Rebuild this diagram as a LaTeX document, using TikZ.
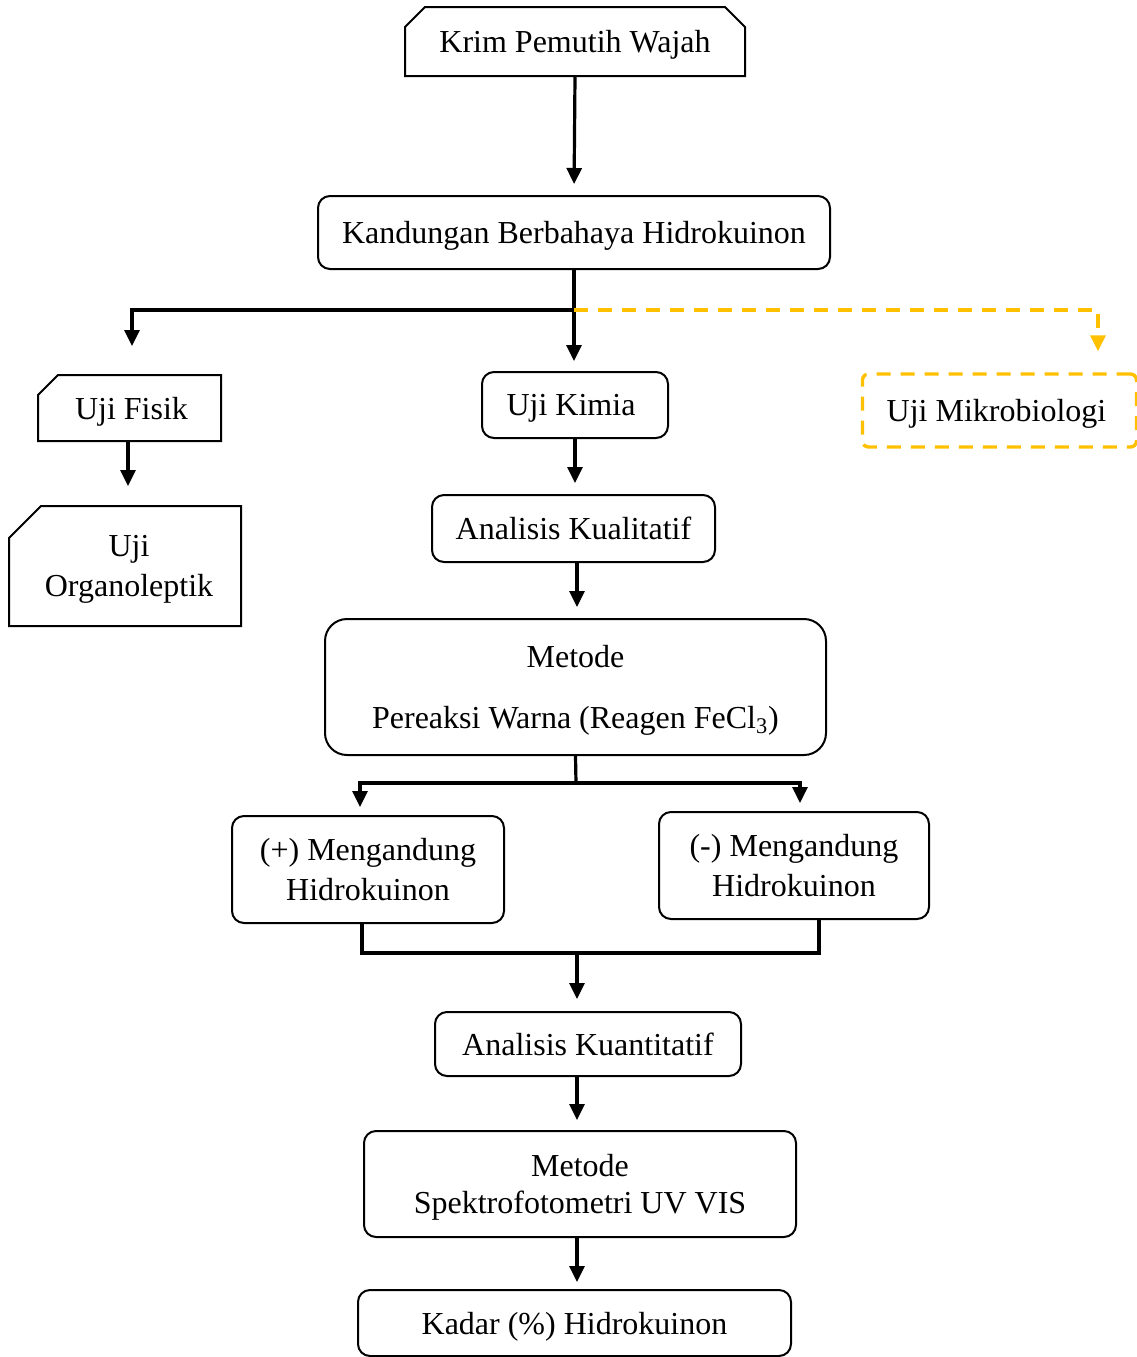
\documentclass[tikz,border=0pt]{standalone}
\usepackage{fontspec}
\setmainfont{Liberation Serif}
\usetikzlibrary{arrows.meta,shapes.misc}
\definecolor{ygold}{HTML}{FFC000}
\begin{document}
\begin{tikzpicture}[x=0.5pt,y=-0.5pt,
  font=\fontsize{16pt}{20pt}\selectfont,
  rbox/.style={draw,line width=1pt,rounded corners=6pt,inner sep=0pt,align=center,text depth=0pt},
  cbox/.style={draw,line width=1pt,chamfered rectangle,inner sep=0pt,align=center,text depth=0pt},
  conn/.style={line width=1.6pt},
  arr/.style={line width=1.6pt,-{Triangle[width=7.5pt,length=8pt]}},
  yarr/.style={line width=1.7pt,draw=ygold,dash pattern=on 7pt off 5pt,-{Triangle[width=7.5pt,length=8pt]},ygold},
  ybox/.style={draw=ygold,line width=1.7pt,dash pattern=on 7pt off 5pt,rounded corners=3pt,inner sep=0pt,align=center,text depth=0pt}
]
\useasboundingbox (0,0) rectangle (1137,1357);

\node[cbox,chamfered rectangle corners={north west,north east},chamfered rectangle xsep=5pt,chamfered rectangle ysep=5pt,minimum width=170pt,minimum height=34.5pt] (krim) at (575,41.5) {Krim Pemutih Wajah};
\node[rbox,minimum width=256pt,minimum height=36.5pt] (kand) at (574,232.5) {Kandungan Berbahaya Hidrokuinon};
\node[cbox,chamfered rectangle corners={north west},chamfered rectangle xsep=5pt,chamfered rectangle ysep=5pt,minimum width=91.5pt,minimum height=33pt] (fisik) at (129.5,408) {\hspace*{2pt}Uji Fisik};
\node[cbox,chamfered rectangle corners={north west},chamfered rectangle xsep=8pt,chamfered rectangle ysep=8pt,minimum width=116pt,minimum height=60pt] (organo) at (125,566) {\hspace*{4pt}Uji\\\hspace*{4pt}Organoleptik};
\node[rbox,minimum width=93pt,minimum height=33pt] (kimia) at (575,405) {Uji Kimia\hspace*{4pt}};
\node[ybox,minimum width=137pt,minimum height=36.5pt] (mikro) at (999.5,410.5) {Uji Mikrobiologi\hspace*{3pt}};
\node[rbox,minimum width=141.5pt,minimum height=33.5pt] (kual) at (573.5,528.5) {Analisis Kualitatif};
\node[rbox,rounded corners=11pt,minimum width=250.5pt,minimum height=68pt] (metode) at (575.5,687) {Metode\\[10.5pt]Pereaksi Warna (Reagen FeCl\textsubscript{3})};
\node[rbox,minimum width=136pt,minimum height=53.5pt] (plus) at (368,869.5) {(+) Mengandung\\Hidrokuinon};
\node[rbox,minimum width=135pt,minimum height=53.5pt] (minus) at (794,865.5) {(-) Mengandung\\Hidrokuinon};
\node[rbox,minimum width=153pt,minimum height=32pt] (kuant) at (588,1044) {Analisis Kuantitatif};
\node[rbox,minimum width=216pt,minimum height=53pt] (spek) at (580,1184) {Metode\\[-1.5pt]Spektrofotometri UV VIS};
\node[rbox,minimum width=216.5pt,minimum height=33pt] (kadar) at (574.5,1323) {Kadar (\%) Hidrokuinon};

\coordinate (j1) at (574,310);
\coordinate (j2) at (576,783);
\coordinate (j3) at (577,953);

\draw[arr,shorten >=5.5pt] (krim.south) -- (kand.north);
\draw[conn] (kand.south) -- (j1);
\draw[arr,shorten >=14pt] (j1) -| ([xshift=1.25pt]fisik.north);
\draw[arr,shorten >=5pt] (j1) -- (kimia.north -| j1);
\draw[yarr,shorten >=10.5pt] (j1) -| ([xshift=49.25pt]mikro.north);
\draw[arr,shorten >=9.5pt] ([xshift=-0.75pt]fisik.south) -- ([xshift=-0.75pt]fisik.south |- organo.north);
\draw[arr,shorten >=5.5pt] (kimia.south) -- (kimia.south |- kual.north);
\draw[arr,shorten >=5.5pt] ([xshift=1.75pt]kual.south) -- ([xshift=1.75pt]kual.south |- metode.north);
\draw[conn] (metode.south) -- (j2);
\draw[arr,shorten >=4pt] (j2) -| ([xshift=-4pt]plus.north);
\draw[arr,shorten >=4pt] (j2) -| ([xshift=3pt]minus.north);
\draw[conn] ([xshift=-3pt]plus.south) |- (j3) -| ([xshift=12.5pt]minus.south);
\draw[arr,shorten >=6pt] (j3) -- (j3 |- kuant.north);
\draw[arr,shorten >=5pt] (j3 |- kuant.south) -- (j3 |- spek.north);
\draw[arr,shorten >=3.5pt] (j3 |- spek.south) -- (j3 |- kadar.north);
\end{tikzpicture}
\end{document}
